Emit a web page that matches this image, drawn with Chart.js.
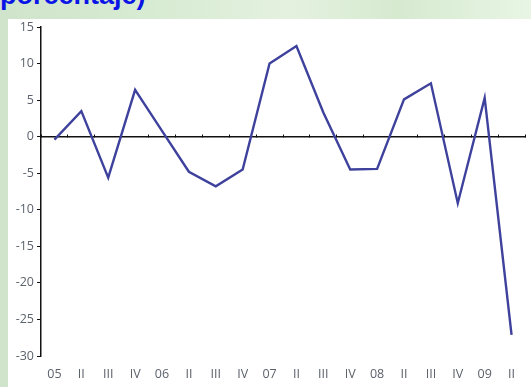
<!DOCTYPE html>
<html>
<head>
<meta charset="utf-8">
<script src="https://cdn.jsdelivr.net/npm/chart.js@4.4.1/dist/chart.umd.min.js"></script>
<style>
  html, body { margin: 0; padding: 0; }
  body {
    width: 531px; height: 387px; position: relative; overflow: hidden;
    background: linear-gradient(90deg, #cfe4cb 0%, #d8ebd3 30%, #e4f1df 55%, #d6ead0 75%, #e8f5e4 100%);
  }
  #panel { position: absolute; left: 8px; top: 19px; right: 0; bottom: 0; background: #ffffff; }
  #title {
    position: absolute; left: 0; top: -20px; margin: 0;
    font: bold 27px "Liberation Sans", Arial, sans-serif; color: #0a14e6; white-space: nowrap;
  }
  #chart { position: absolute; left: 0; top: 0; }
</style>
</head>
<body>
<div id="panel"></div>
<div id="title">porcentaje)</div>
<canvas id="chart" width="531" height="387"></canvas>
<script>
// Quarterly labels, 2005 Q1 to 2009 Q2
const quarterLabels = ['05', 'II', 'III', 'IV', '06', 'II', 'III', 'IV', '07', 'II', 'III', 'IV', '08', 'II', 'III', 'IV', '09', 'II'];
// Quarter-on-quarter change, per cent
const changeValues = [-0.4, 3.5, -5.6, 6.4, 0.8, -4.8, -6.8, -4.5, 10.0, 12.4, 3.3, -4.5, -4.4, 5.1, 7.3, -9.1, 5.3, -27.1];
// Value axis range and step
const yMin = -30;
const yMax = 15;
const yStep = 5;

const labelColor = '#5b626c';
const labelFont = { family: '"Open Sans", sans-serif', size: 12.5 };
const padLeft = 4;

new Chart(document.getElementById('chart'), {
  type: 'line',
  data: {
    labels: quarterLabels,
    datasets: [{
      data: changeValues,
      xAxisID: 'x',
      borderColor: '#3e429c',
      borderWidth: 2.4,
      pointRadius: 0,
      tension: 0,
      fill: false
    }]
  },
  options: {
    responsive: false,
    devicePixelRatio: 1,
    animation: false,
    layout: { padding: { left: padLeft, top: 27, right: 6, bottom: 0 } },
    plugins: { legend: { display: false }, tooltip: { enabled: false } },
    scales: {
      x: {
        type: 'category',
        axis: 'x',
        position: 'bottom',
        offset: true,
        grid: { display: false, drawTicks: false },
        border: { display: false },
        ticks: { color: labelColor, font: labelFont, padding: 11, maxRotation: 0, autoSkip: false },
        afterFit: s => { s.height = 31; }
      },
      zero: {
        type: 'category',
        axis: 'x',
        labels: quarterLabels,
        position: { y: 0 },
        offset: true,
        // tick marks hang below the zero line
        grid: { offset: true, drawOnChartArea: false, drawTicks: true, tickLength: -3, color: '#111111', lineWidth: 1 },
        border: { display: true, color: '#111111', width: 1.5 },
        ticks: { display: false }
      },
      y: {
        axis: 'y',
        min: yMin,
        max: yMax,
        ticks: { stepSize: yStep, color: labelColor, font: labelFont, padding: 3 },
        grid: { drawOnChartArea: false, drawTicks: true, tickLength: 4, color: '#111111', lineWidth: 1 },
        border: { display: true, color: '#111111', width: 1.5 },
        afterFit: s => { s.width = 41 - padLeft; }
      }
    }
  }
});
</script>
</body>
</html>
